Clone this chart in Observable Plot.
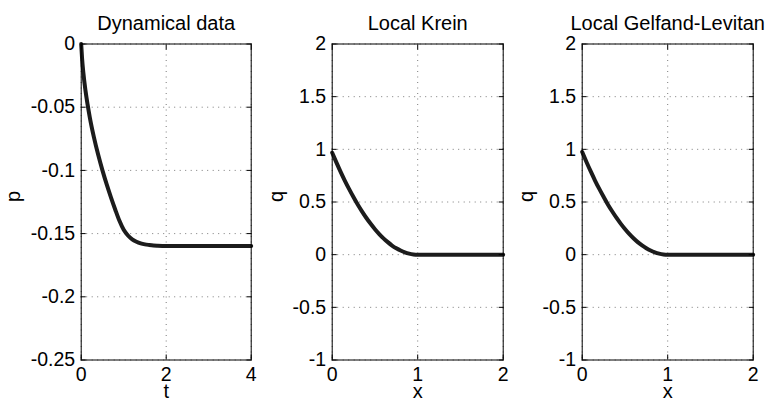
<!DOCTYPE html>
<html>
<head>
<meta charset="utf-8">
<script src="https://cdn.jsdelivr.net/npm/d3@7"></script>
<script src="https://cdn.jsdelivr.net/npm/@observablehq/plot@0.6"></script>
<style>
  html, body { margin: 0; padding: 0; background: #fff; }
  #chart { position: relative; width: 769px; height: 400px; overflow: hidden; }
  #chart > svg { position: absolute; left: 0; top: 0; }
</style>
</head>
<body>
<div id="chart"></div>
<script>
// ---- data ----
const titles = ["Dynamical data", "Local Krein", "Local Gelfand-Levitan"];
const xLabels = ["t", "x", "x"];
const yLabels = ["p", "q", "q"];

// Panel 1: dynamical data p(t)
const pT   = [0, 0.02, 0.05, 0.1, 0.15, 0.2, 0.3, 0.4, 0.5, 0.6, 0.7, 0.8, 0.9, 1.0, 1.1, 1.2, 1.3, 1.4, 1.5, 1.6, 1.7, 1.8, 2.0, 2.5, 3.0, 3.5, 4.0];
const pVal = [0, -0.0111, -0.0226, -0.0367, -0.0478, -0.0576, -0.0739, -0.0877, -0.1, -0.1111, -0.1213, -0.1309, -0.1399, -0.1470, -0.1515, -0.1545, -0.1564, -0.1577, -0.1585, -0.1590, -0.1594, -0.1596, -0.1598, -0.1598, -0.1598, -0.1598, -0.1598];

// Panels 2 & 3: reconstructed q(x)
const qX     = [0, 0.05, 0.1, 0.15, 0.2, 0.25, 0.3, 0.35, 0.4, 0.45, 0.5, 0.55, 0.6, 0.65, 0.7, 0.75, 0.8, 0.85, 0.9, 0.95, 1.0, 1.5, 2.0];
const qKrein = [0.968, 0.874, 0.784, 0.699, 0.620, 0.545, 0.474, 0.409, 0.348, 0.293, 0.242, 0.196, 0.155, 0.119, 0.087, 0.0605, 0.039, 0.0218, 0.0097, 0.0024, 0, 0, 0];
const qGL    = [0.975, 0.880, 0.790, 0.704, 0.624, 0.549, 0.477, 0.412, 0.351, 0.295, 0.244, 0.197, 0.156, 0.119, 0.088, 0.061, 0.039, 0.022, 0.0098, 0.0024, 0, 0, 0];

// ticks
const xTicks1 = [0, 2, 4];
const xTickLabels1 = ["0", "2", "4"];
const yTicks1 = [0, -0.05, -0.1, -0.15, -0.2, -0.25];
const yTickLabels1 = ["0", "-0.05", "-0.1", "-0.15", "-0.2", "-0.25"];
const xTicks2 = [0, 1, 2];
const xTickLabels2 = ["0", "1", "2"];
const yTicks2 = [-1, -0.5, 0, 0.5, 1, 1.5, 2];
const yTickLabels2 = ["-1", "-0.5", "0", "0.5", "1", "1.5", "2"];

// ---- layout ----
const W = 769, H = 400;
const TOP = 43.5, BOTTOM = 359.5;
const frames = [[80.7, 250.7], [331.7, 502.7], [581.7, 752.7]];
const yLabelDx = [-68, -56, -56];
const FONT = "'Liberation Sans', Arial, Helvetica, sans-serif";

const panels = [
  {xs: pT, ys: pVal, xDomain: [0, 4], yDomain: [-0.25, 0], xTicks: xTicks1, xTL: xTickLabels1, yTicks: yTicks1, yTL: yTickLabels1},
  {xs: qX, ys: qKrein, xDomain: [0, 2], yDomain: [-1, 2], xTicks: xTicks2, xTL: xTickLabels2, yTicks: yTicks2, yTL: yTickLabels2},
  {xs: qX, ys: qGL, xDomain: [0, 2], yDomain: [-1, 2], xTicks: xTicks2, xTL: xTickLabels2, yTicks: yTicks2, yTL: yTickLabels2}
];

const chart = document.getElementById("chart");

panels.forEach((p, i) => {
  const data = p.xs.map((x, j) => ({x, y: p.ys[j]}));
  const fmt = (ticks, labels) => d => labels[ticks.indexOf(d)];
  const grid = {stroke: "#7a7a7a", strokeOpacity: 1, strokeWidth: 1, strokeDasharray: "1,4.5"};
  const tick = {tickSize: 5, tickFormat: () => "", label: null, stroke: "#000", strokeWidth: 1};
  const svg = Plot.plot({
    width: W, height: H,
    marginLeft: frames[i][0], marginRight: W - frames[i][1],
    marginTop: TOP, marginBottom: H - BOTTOM,
    style: {background: "transparent", fontFamily: FONT, color: "#000", overflow: "visible"},
    x: {domain: p.xDomain},
    y: {domain: p.yDomain},
    marks: [
      Plot.gridX(p.xTicks, grid),
      Plot.gridY(p.yTicks, grid),
      Plot.line(data, {x: "x", y: "y", stroke: "#1c1c1c", strokeWidth: 4, curve: "monotone-x"}),
      Plot.frame({stroke: "#000", strokeWidth: 1}),
      // inward ticks on all four sides
      Plot.axisX(p.xTicks, {...tick, anchor: "bottom", dy: -5}),
      Plot.axisX(p.xTicks, {...tick, anchor: "top", dy: 5}),
      Plot.axisY(p.yTicks, {...tick, anchor: "left", dx: 5}),
      Plot.axisY(p.yTicks, {...tick, anchor: "right", dx: -5}),
      // tick labels
      Plot.axisX(p.xTicks, {anchor: "bottom", tickSize: 0, tickPadding: 7, fontSize: 19.5, label: null, tickFormat: fmt(p.xTicks, p.xTL)}),
      Plot.axisY(p.yTicks, {anchor: "left", tickSize: 0, tickPadding: 6, fontSize: 19.5, label: null, tickFormat: fmt(p.yTicks, p.yTL)}),
      // title and axis labels
      Plot.text([titles[i]], {frameAnchor: "top", dy: -20.4, lineAnchor: "middle", fontSize: 20, fill: "#000"}),
      Plot.text([xLabels[i]], {frameAnchor: "bottom", dy: 31.5, lineAnchor: "middle", fontSize: 20, fill: "#000"}),
      Plot.text([yLabels[i]], {frameAnchor: "left", dx: yLabelDx[i], rotate: -90, lineAnchor: "middle", fontSize: 20, fill: "#000"})
    ]
  });
  chart.appendChild(svg);
});
</script>
</body>
</html>
